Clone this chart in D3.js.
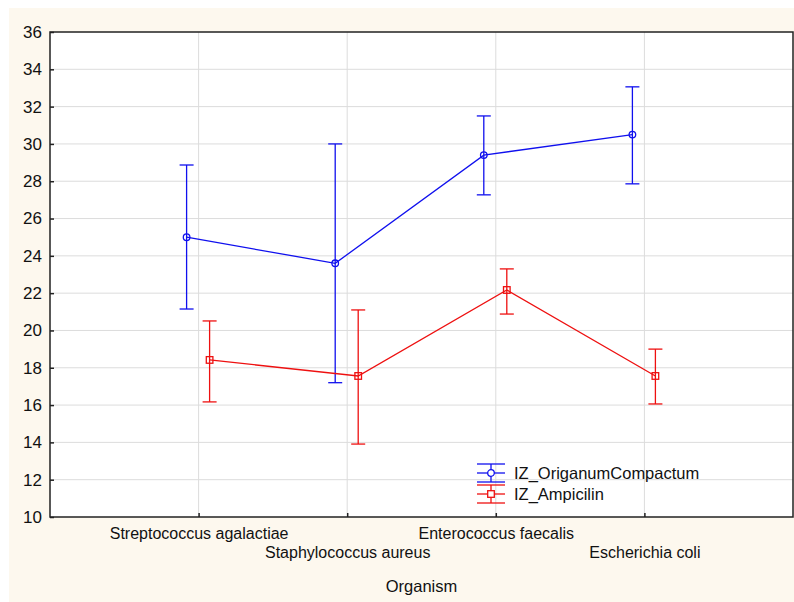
<!DOCTYPE html>
<html>
<head>
<meta charset="utf-8">
<script src="https://cdn.jsdelivr.net/npm/d3@7"></script>
<style>
body { margin: 0; background: #fff; }
svg { display: block; font-family: "Liberation Sans", Arial, sans-serif; }
</style>
</head>
<body>
<div id="chart"></div>
<script>
// data
var organisms = ["Streptococcus agalactiae", "Staphylococcus aureus", "Enterococcus faecalis", "Escherichia coli"]
var origMean = [25.0, 23.6, 29.4, 30.5]
var origLow = [21.15, 17.2, 27.27, 27.86]
var origHigh = [28.87, 30.0, 31.5, 33.06]
var ampMean = [18.42, 17.56, 22.17, 17.56]
var ampLow = [16.17, 13.91, 20.88, 16.06]
var ampHigh = [20.51, 21.1, 23.3, 19.0]
var yTicks = d3.range(10, 37, 2)

var W = 794, H = 602
var margin = {left: 50, right: 1, top: 32, bottom: 85}
var width = W - margin.left - margin.right
var height = H - margin.top - margin.bottom

var svg = d3.select('#chart').append('svg')
	.attr('width', W)
	.attr('height', H)

svg.append('rect')
	.attr('x', 9).attr('y', 8)
	.attr('width', W - 9).attr('height', H - 8)
	.style('fill', '#fdf8ee')

var g = svg.append('g').attr('transform', 'translate(' + margin.left + ',' + margin.top + ')')

g.append('rect')
	.attr('width', width).attr('height', height)
	.style('fill', '#fff')

var x = d3.scaleLinear().domain([0, organisms.length + 1]).range([0, width])
var y = d3.scaleLinear().domain([10, 36]).range([height, 0])

// grid
g.selectAll('.hgrid').data(yTicks.slice(1, -1)).enter().append('line')
	.attr('x1', 0).attr('x2', width)
	.attr('y1', function (d) { return y(d) }).attr('y2', function (d) { return y(d) })
	.style('stroke', '#dcdcdc').style('stroke-width', 1)
g.selectAll('.vgrid').data(organisms).enter().append('line')
	.attr('x1', function (d, i) { return x(i + 1) }).attr('x2', function (d, i) { return x(i + 1) })
	.attr('y1', 0).attr('y2', height)
	.style('stroke', '#dcdcdc').style('stroke-width', 1)

// axes
var yAxis = d3.axisLeft(y).tickValues(yTicks).tickSizeInner(-4).tickSizeOuter(0).tickPadding(8)
var yG = g.append('g').call(yAxis)
yG.select('.domain').remove()
yG.selectAll('line').style('stroke', '#222').style('stroke-width', 1.5)
yG.selectAll('text').style('font-size', '17px').style('fill', '#111')

var xAxis = d3.axisBottom(x).tickValues(d3.range(1, organisms.length + 1)).tickSizeInner(-4).tickSizeOuter(0)
	.tickFormat(function (d) { return organisms[d - 1] })
var xG = g.append('g').attr('transform', 'translate(0,' + height + ')').call(xAxis)
xG.select('.domain').remove()
xG.selectAll('line').style('stroke', '#222').style('stroke-width', 1.5)
xG.selectAll('text')
	.attr('y', function (d) { return d % 2 ? 10.6 : 29.6 })
	.style('font-size', '16px').style('fill', '#111')

// frame
g.append('rect')
	.attr('width', width).attr('height', height)
	.style('fill', 'none').style('stroke', '#222').style('stroke-width', 1.5)

g.append('text')
	.attr('x', width / 2 - 0).attr('y', height + 75)
	.attr('text-anchor', 'middle')
	.style('font-size', '16.5px').style('fill', '#111')
	.text('Organism')

function drawSeries(mean, low, high, color, dx, marker) {
	var line = d3.line()
		.x(function (d, i) { return x(i + 1) + dx })
		.y(function (d) { return y(d) })
	var s = g.append('g')
	s.append('path').datum(mean).attr('d', line)
		.style('fill', 'none').style('stroke', color).style('stroke-width', 1.3)
	mean.forEach(function (m, i) {
		var cx = x(i + 1) + dx
		s.append('line').attr('x1', cx).attr('x2', cx).attr('y1', y(low[i])).attr('y2', y(high[i]))
			.style('stroke', color).style('stroke-width', 1.3)
		;[low[i], high[i]].forEach(function (v) {
			s.append('line').attr('x1', cx - 7).attr('x2', cx + 7).attr('y1', y(v)).attr('y2', y(v))
				.style('stroke', color).style('stroke-width', 1.3)
		})
		if (marker == 'circle') {
			s.append('circle').attr('cx', cx).attr('cy', y(m)).attr('r', 3.3)
				.style('fill', 'none').style('stroke', color).style('stroke-width', 1.3)
		} else {
			s.append('rect').attr('x', cx - 3.3).attr('y', y(m) - 3.3).attr('width', 6.6).attr('height', 6.6)
				.style('fill', 'none').style('stroke', color).style('stroke-width', 1.3)
		}
	})
}
drawSeries(origMean, origLow, origHigh, '#1010ee', -12, 'circle')
drawSeries(ampMean, ampLow, ampHigh, '#ee1010', 11, 'square')

// legend
var legend = [
	{name: 'IZ_OriganumCompactum', color: '#1010ee', marker: 'circle'},
	{name: 'IZ_Ampicilin', color: '#ee1010', marker: 'square'}
]
var lg = svg.append('g').attr('transform', 'translate(477,473)')
legend.forEach(function (d, i) {
	var yy = i * 21
	var row = lg.append('g').attr('transform', 'translate(0,' + yy + ')')
	;[-9, 0, 9].forEach(function (o) {
		row.append('line').attr('x1', 0).attr('x2', 28).attr('y1', o).attr('y2', o)
			.style('stroke', d.color).style('stroke-width', 1.3)
	})
	row.append('line').attr('x1', 14).attr('x2', 14).attr('y1', -9).attr('y2', 9)
		.style('stroke', d.color).style('stroke-width', 1.3)
	if (d.marker == 'circle') {
		row.append('circle').attr('cx', 14).attr('cy', 0).attr('r', 3.3)
			.style('fill', '#fff').style('stroke', d.color).style('stroke-width', 1.3)
	} else {
		row.append('rect').attr('x', 10.7).attr('y', -3.3).attr('width', 6.6).attr('height', 6.6)
			.style('fill', '#fff').style('stroke', d.color).style('stroke-width', 1.3)
	}
	row.append('text').attr('x', 37).attr('y', 6)
		.style('font-size', '16.5px').style('fill', '#111')
		.text(d.name)
})
</script>
</body>
</html>
